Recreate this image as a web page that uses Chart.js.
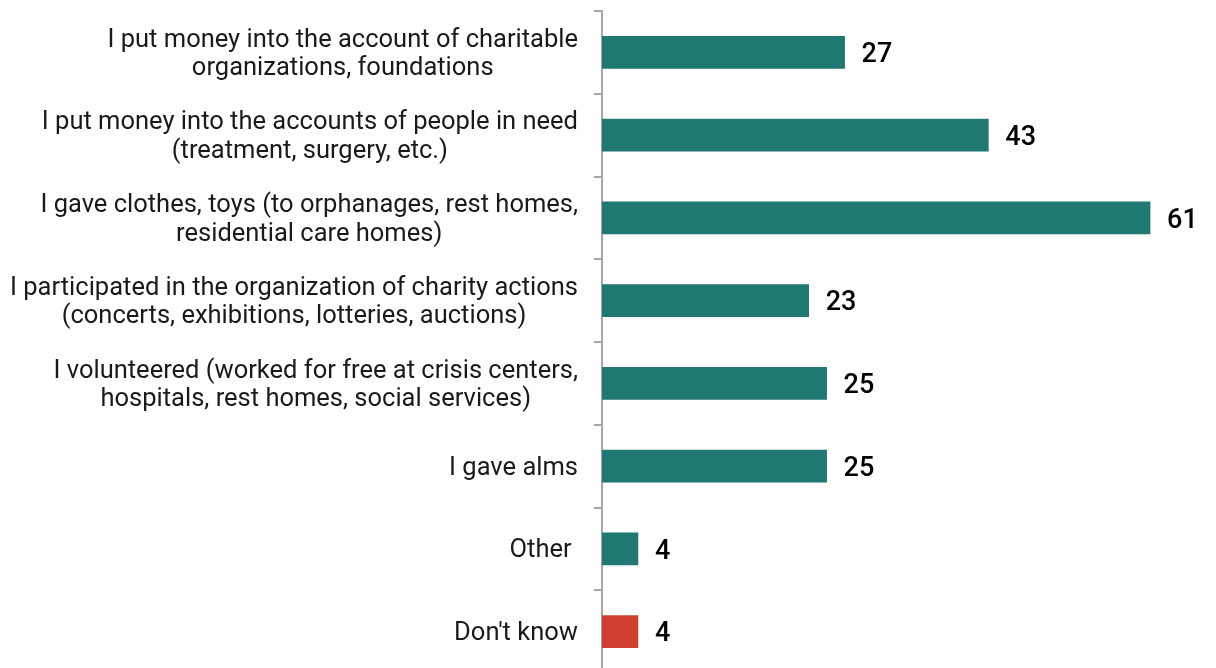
<!DOCTYPE html>
<html>
<head>
<meta charset="utf-8">
<script src="https://cdn.jsdelivr.net/npm/chart.js@4/dist/chart.umd.min.js"></script>
<style>
  html, body { margin: 0; padding: 0; background: #fff; overflow: hidden; }
  #wrap { width: 1216px; height: 673px; position: relative; }
</style>
</head>
<body>
<div id="wrap"><canvas id="c"></canvas></div>
<script>
// Forms of charitable help (%)
const categories = [
  ["I put money into the account of charitable", "organizations, foundations"],
  ["I put money into the accounts of people in need", "(treatment, surgery, etc.)"],
  ["I gave clothes, toys (to orphanages, rest homes,", "residential care homes)"],
  ["I participated in the organization of charity actions", "(concerts, exhibitions, lotteries, auctions)"],
  ["I volunteered (worked for free at crisis centers,", "hospitals, rest homes, social services)"],
  "I gave alms",
  "Other ",
  "Don't know"
];
const values = [27, 43, 61, 23, 25, 25, 4, 4];
const barColors = ["#1f7872", "#1f7872", "#1f7872", "#1f7872", "#1f7872", "#1f7872", "#1f7872", "#d04030"];

const LABEL_FONT = '25.5px Roboto, "Liberation Sans", Arial, sans-serif';
const LINE_STEP = 28.5;

// Category labels: each block sits right against the axis, its lines centred on one another
const categoryLabels = {
  id: 'categoryLabels',
  afterDraw(chart) {
    const ctx = chart.ctx;
    const yScale = chart.scales.y;
    const right = yScale.right - 24;
    ctx.save();
    ctx.font = LABEL_FONT;
    ctx.fillStyle = '#1a1a1a';
    ctx.textAlign = 'center';
    ctx.textBaseline = 'middle';
    categories.forEach((label, i) => {
      const lines = Array.isArray(label) ? label : [label];
      const widest = Math.max(...lines.map(l => ctx.measureText(l).width));
      const cx = right - widest / 2;
      const cy = yScale.getPixelForValue(i) + 2;
      const top = cy - (lines.length - 1) * LINE_STEP / 2;
      lines.forEach((line, k) => ctx.fillText(line, cx, top + k * LINE_STEP));
    });
    ctx.restore();
  }
};

// Value labels to the right of each bar
const valueLabels = {
  id: 'valueLabels',
  afterDatasetsDraw(chart) {
    const ctx = chart.ctx;
    const meta = chart.getDatasetMeta(0);
    ctx.save();
    ctx.font = '500 27px Roboto, "Liberation Sans", Arial, sans-serif';
    ctx.fillStyle = '#000';
    ctx.textAlign = 'left';
    ctx.textBaseline = 'middle';
    meta.data.forEach((bar, i) => {
      ctx.fillText(String(values[i]), bar.x + 17, bar.y + 3);
    });
    ctx.restore();
  }
};

new Chart(document.getElementById('c'), {
  type: 'bar',
  data: {
    labels: categories,
    datasets: [{
      data: values,
      backgroundColor: barColors,
      borderWidth: 0,
      barThickness: 32
    }]
  },
  options: {
    indexAxis: 'y',
    responsive: true,
    maintainAspectRatio: false,
    animation: false,
    layout: { padding: { top: 11, right: 30, bottom: 0, left: 0 } },
    plugins: { legend: { display: false }, tooltip: { enabled: false } },
    scales: {
      x: {
        display: false,
        min: 0,
        max: 65
      },
      y: {
        afterFit(scale) {
          scale.width = 602;
          scale.paddingTop = 0;
          scale.paddingBottom = 0;
        },
        grid: {
          offset: true,
          drawOnChartArea: false,
          drawTicks: true,
          tickLength: 8,
          color: '#a6a6a6',
          lineWidth: 2
        },
        border: { display: true, color: '#a6a6a6', width: 2 },
        ticks: { display: false }
      }
    }
  },
  plugins: [valueLabels, categoryLabels]
});
</script>
</body>
</html>
